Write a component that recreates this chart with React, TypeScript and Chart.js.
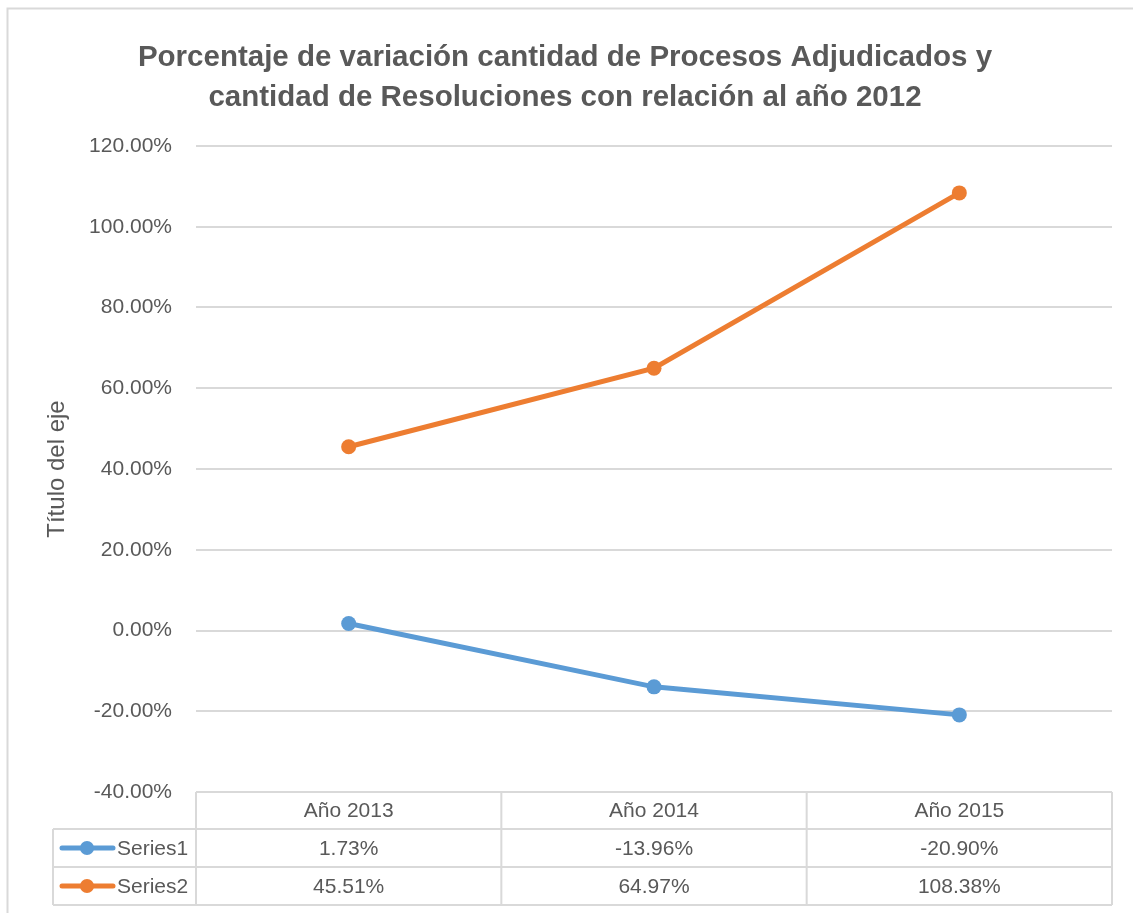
import React, { useEffect, useRef } from "react";
import { Chart, registerables } from "chart.js";

Chart.register(...registerables);

const titleLines = [
  "Porcentaje de variación cantidad de Procesos Adjudicados y",
  "cantidad de Resoluciones con relación al año 2012",
];
const yAxisTitle = "Título del eje";
const categories = ["Año 2013", "Año 2014", "Año 2015"];
const seriesNames = ["Series1", "Series2"];
const series1 = [0.0173, -0.1396, -0.209];
const series2 = [0.4551, 0.6497, 1.0838];
const seriesColors = ["#5B9BD5", "#ED7D31"];
const yMin = -0.4;
const yMax = 1.2;
const yStep = 0.2;

const FONT = "'Liberation Sans', Arial, sans-serif";
const TEXT = "#595959";
const GRID = "#D9D9D9";

const fmtPct = (v: number) => {
  const p = Math.abs(v) < 1e-9 ? 0 : v * 100;
  return p.toFixed(2) + "%";
};

const frameAndTable = {
  id: "frameAndTable",
  beforeDraw(chart: any) {
    const ctx = chart.ctx;
    ctx.save();
    ctx.strokeStyle = GRID;
    ctx.lineWidth = 2;
    ctx.beginPath();
    ctx.moveTo(7.5, chart.height);
    ctx.lineTo(7.5, 8.5);
    ctx.lineTo(chart.width, 8.5);
    ctx.stroke();
    ctx.restore();
  },
  afterDraw(chart: any) {
    const ctx = chart.ctx;
    const area = chart.chartArea;
    const xs = chart.scales.x;
    const n = categories.length;
    const colW = (area.right - area.left) / n;
    const top = area.bottom;
    const rowH = [37, 38, 38];
    const r1 = top + rowH[0];
    const r2 = r1 + rowH[1];
    const r3 = r2 + rowH[2];
    const keyLeft = 53;

    ctx.save();
    ctx.strokeStyle = GRID;
    ctx.lineWidth = 2;
    ctx.beginPath();
    ctx.moveTo(area.left, top);
    ctx.lineTo(area.right, top);
    ctx.moveTo(keyLeft, r1);
    ctx.lineTo(area.right, r1);
    ctx.moveTo(keyLeft, r2);
    ctx.lineTo(area.right, r2);
    ctx.moveTo(keyLeft, r3);
    ctx.lineTo(area.right, r3);
    for (let k = 0; k <= n; k++) {
      const x = area.left + k * colW;
      ctx.moveTo(x, top);
      ctx.lineTo(x, r3);
    }
    ctx.moveTo(keyLeft, r1);
    ctx.lineTo(keyLeft, r3);
    ctx.stroke();

    ctx.fillStyle = TEXT;
    ctx.font = `21px ${FONT}`;
    ctx.textAlign = "center";
    ctx.textBaseline = "middle";
    categories.forEach((c, i) => {
      ctx.fillText(c, xs.getPixelForValue(i), top + rowH[0] / 2 + 1);
    });
    const allSeries = [series1, series2];
    const rowCenters = [r1 + rowH[1] / 2 + 1, r2 + rowH[2] / 2 + 1];
    allSeries.forEach((s, si) => {
      const cy = rowCenters[si];
      ctx.textAlign = "center";
      ctx.fillStyle = TEXT;
      s.forEach((v, i) => {
        ctx.fillText(fmtPct(v), xs.getPixelForValue(i), cy);
      });
      ctx.strokeStyle = seriesColors[si];
      ctx.fillStyle = seriesColors[si];
      ctx.lineWidth = 5;
      ctx.lineCap = "round";
      ctx.beginPath();
      ctx.moveTo(62, cy - 1);
      ctx.lineTo(113, cy - 1);
      ctx.stroke();
      ctx.beginPath();
      ctx.arc(87, cy - 1, 7, 0, Math.PI * 2);
      ctx.fill();
      ctx.fillStyle = TEXT;
      ctx.textAlign = "left";
      ctx.fillText(seriesNames[si], 117, cy);
    });
    ctx.restore();
  },
};

export default function App() {
  const ref = useRef<HTMLCanvasElement | null>(null);
  useEffect(() => {
    if (!ref.current) return;
    Chart.defaults.font.family = FONT;
    const chart = new Chart(ref.current, {
      type: "line",
      data: {
        labels: categories,
        datasets: [series1, series2].map((s, i) => ({
          label: seriesNames[i],
          data: s,
          borderColor: seriesColors[i],
          backgroundColor: seriesColors[i],
          pointBackgroundColor: seriesColors[i],
          pointBorderColor: seriesColors[i],
          borderWidth: 5,
          pointRadius: 7.5,
          pointBorderWidth: 0,
          tension: 0,
          clip: false as any,
          yAxisID: "y",
        })),
      },
      options: {
        animation: false,
        responsive: false,
        layout: { padding: { left: 9, right: 12, top: 0, bottom: 0 } },
        plugins: {
          legend: { display: false },
          tooltip: { enabled: false },
          title: {
            display: true,
            text: titleLines,
            color: TEXT,
            font: { family: FONT, size: 29.5, weight: "bold", lineHeight: "40px" },
            padding: { top: 38, bottom: 28 },
          },
        },
        scales: {
          x: {
            type: "category",
            offset: true,
            ticks: { display: false },
            grid: { display: false },
            border: { display: false },
            afterFit: (s: any) => {
              s.height = 121;
            },
          },
          y: {
            position: "left",
            min: yMin,
            max: yMax,
            ticks: {
              stepSize: yStep,
              color: TEXT,
              padding: 24,
              font: { family: FONT, size: 21 },
              callback: (v: any) => fmtPct(Number(v)),
            },
            grid: { color: GRID, lineWidth: 2, drawTicks: false },
            border: { display: false },
            title: {
              display: true,
              text: yAxisTitle,
              color: TEXT,
              font: { family: FONT, size: 24 },
              padding: { top: 34, bottom: 0 },
            },
            afterFit: (s: any) => {
              s.width = 187;
            },
          },
          yRight: {
            position: "right",
            display: true,
            min: 0,
            max: 1,
            ticks: { display: false },
            grid: { display: false },
            border: { display: false },
            afterFit: (s: any) => {
              s.width = 9;
            },
          },
        },
      },
      plugins: [frameAndTable],
    });
    return () => chart.destroy();
  }, []);
  return (
    <div style={{ position: "absolute", left: 0, top: 0, width: 1133, height: 913, background: "#fff" }}>
      <canvas ref={ref} width={1133} height={913} />
    </div>
  );
}
